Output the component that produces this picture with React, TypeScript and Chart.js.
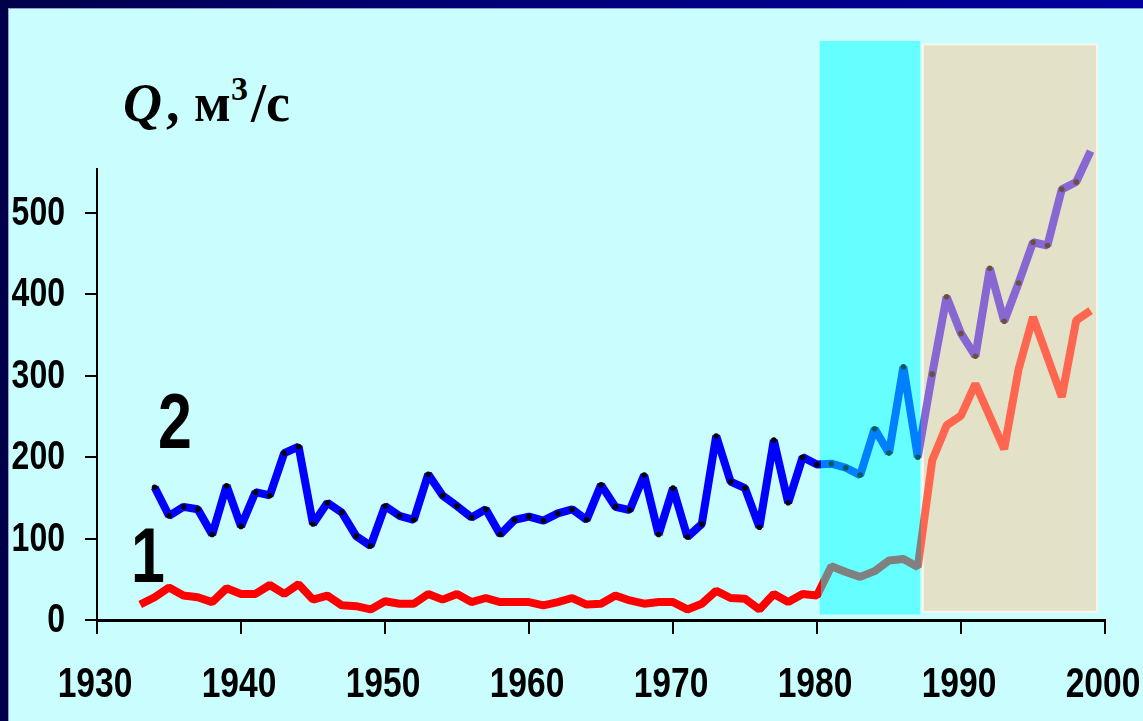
import React, { useEffect, useRef } from 'react';
import { Chart, registerables } from 'chart.js';

Chart.register(...registerables);

// ---- data ----
const years = [
  1933, 1934, 1935, 1936, 1937, 1938, 1939, 1940, 1941, 1942,
  1943, 1944, 1945, 1946, 1947, 1948, 1949, 1950, 1951, 1952,
  1953, 1954, 1955, 1956, 1957, 1958, 1959, 1960, 1961, 1962,
  1963, 1964, 1965, 1966, 1967, 1968, 1969, 1970, 1971, 1972,
  1973, 1974, 1975, 1976, 1977, 1978, 1979, 1980, 1981, 1982,
  1983, 1984, 1985, 1986, 1987, 1988, 1989, 1990, 1991, 1992,
  1993, 1994, 1995, 1996, 1997, 1998, 1999,
];

// curve 1 (lower)
const flow1 = [
  19, 28, 40, 30, 28, 22, 39, 32, 32, 43,
  32, 44, 25, 30, 18, 17, 13, 23, 20, 20,
  32, 25, 32, 22, 27, 22, 22, 22, 18, 22,
  27, 19, 20, 30, 24, 20, 22, 22, 13, 20,
  36, 27, 26, 13, 32, 22, 32, 30, 66, 59,
  53, 60, 73, 75, 65, 196, 239, 251, 290, 250,
  210, 308, 372, 323, 274, 368, 380,
];

// curve 2 (upper)
const flow2 = [
  null, 163, 128, 139, 136, 105, 165, 115, 157, 153,
  205, 213, 118, 144, 132, 103, 91, 140, 128, 123,
  179, 153, 140, 126, 136, 105, 123, 127, 122, 131,
  136, 123, 166, 139, 135, 178, 105, 162, 102, 118,
  226, 170, 162, 114, 221, 144, 200, 191, 192, 187,
  178, 235, 205, 311, 200, 302, 397, 352, 324, 432,
  367, 414, 464, 460, 529, 538, 576,
];

const xTickValues = [1930, 1940, 1950, 1960, 1970, 1980, 1990, 2000];
const yTickValues = [0, 100, 200, 300, 400, 500];

// shaded periods (years) and the breaks where the curves change colour
const periodStarts = [1980.26, 1987.35];
const periodEnds = [1987.1, 1999.45];
const periodTops = [710, 707];
const periodBottoms = [8, 10];
const periodFills = ['#66FFFF', '#E3E2C9'];
const periodBorders = ['#66FFFF', '#F6F6EC'];
const colourBreaks = [1980.26, 1987.2];

const curve1Colours = ['#FF0000', '#808080', '#FF6650'];
const curve2Colours = ['#0000FF', '#0080FF', '#8767D2'];
const curve2Dots = ['#000000', '#0A5A5A', '#6B5040'];

const LABEL_FONT = '"Liberation Sans", Arial, sans-serif';

function regionIndex(x: number) {
  if (x < colourBreaks[0]) return 0;
  if (x < colourBreaks[1]) return 1;
  return 2;
}

function regionGradient(chart: any, colours: string[]) {
  const { chartArea, scales } = chart;
  if (!chartArea || !scales.x) return colours[0];
  const l = chartArea.left;
  const r = chartArea.right;
  const g = chart.ctx.createLinearGradient(l, 0, r, 0);
  const f1 = Math.min(1, Math.max(0, (scales.x.getPixelForValue(colourBreaks[0]) - l) / (r - l)));
  const f2 = Math.min(1, Math.max(0, (scales.x.getPixelForValue(colourBreaks[1]) - l) / (r - l)));
  g.addColorStop(0, colours[0]);
  g.addColorStop(f1, colours[0]);
  g.addColorStop(f1, colours[1]);
  g.addColorStop(f2, colours[1]);
  g.addColorStop(f2, colours[2]);
  g.addColorStop(1, colours[2]);
  return g;
}

const periodsPlugin = {
  id: 'periods',
  beforeDatasetsDraw(chart: any) {
    const { ctx, scales } = chart;
    const xs = scales.x;
    const ys = scales.y;
    ctx.save();
    for (let i = 0; i < periodStarts.length; i++) {
      const x0 = xs.getPixelForValue(periodStarts[i]);
      const x1 = xs.getPixelForValue(periodEnds[i]);
      const y0 = ys.getPixelForValue(periodTops[i]);
      const y1 = ys.getPixelForValue(periodBottoms[i]);
      ctx.fillStyle = periodFills[i];
      ctx.fillRect(x0, y0, x1 - x0, y1 - y0);
      ctx.strokeStyle = periodBorders[i];
      ctx.lineWidth = 2;
      ctx.strokeRect(x0, y0, x1 - x0, y1 - y0);
    }
    ctx.restore();
  },
};

// condensed bold tick labels (drawn as text, horizontally narrowed)
const axisLabelsPlugin = {
  id: 'axisLabels',
  afterDraw(chart: any) {
    const { ctx, scales } = chart;
    ctx.save();
    ctx.fillStyle = '#000';
    ctx.textBaseline = 'alphabetic';
    ctx.font = `bold 42px ${LABEL_FONT}`;
    ctx.textAlign = 'center';
    for (const v of xTickValues) {
      const x = scales.x.getPixelForValue(v);
      ctx.save();
      ctx.translate(x - 2, scales.x.top + 77);
      ctx.scale(0.8, 1);
      ctx.fillText(String(v), 0, 0);
      ctx.restore();
    }
    ctx.font = `bold 40px ${LABEL_FONT}`;
    ctx.textAlign = 'right';
    for (const v of yTickValues) {
      const y = scales.y.getPixelForValue(v);
      ctx.save();
      ctx.translate(scales.y.right - 32, y + 12);
      ctx.scale(0.8, 1);
      ctx.fillText(String(v), 0, 0);
      ctx.restore();
    }
    ctx.restore();
  },
};

export default function App() {
  const canvasRef = useRef<HTMLCanvasElement | null>(null);

  useEffect(() => {
    if (!canvasRef.current) return;
    const data1 = years.map((y, i) => ({ x: y, y: flow1[i] }));
    const data2 = years.map((y, i) => ({ x: y, y: flow2[i] }));

    const chart = new Chart(canvasRef.current, {
      type: 'line',
      data: {
        datasets: [
          {
            label: '1',
            data: data1 as any,
            borderWidth: 8,
            borderColor: (c: any) => regionGradient(c.chart, curve1Colours),
            pointRadius: 0,
            tension: 0,
            borderJoinStyle: 'bevel',
            clip: false as any,
          },
          {
            label: '2',
            data: data2 as any,
            borderWidth: 8,
            borderColor: (c: any) => regionGradient(c.chart, curve2Colours),
            pointRadius: 2.8,
            pointBorderWidth: 0,
            pointBackgroundColor: (c: any) =>
              curve2Dots[regionIndex(c.raw ? c.raw.x : 1930)],
            tension: 0,
            borderJoinStyle: 'bevel',
            spanGaps: false,
            clip: false as any,
          },
        ],
      },
      options: {
        animation: false,
        responsive: false,
        maintainAspectRatio: false,
        layout: { padding: { left: 0, top: 169, right: 38, bottom: 0 } },
        plugins: {
          legend: { display: false },
          tooltip: { enabled: false },
          title: { display: false },
        },
        scales: {
          x: {
            type: 'linear',
            min: 1930,
            max: 2000,
            afterFit: (s: any) => {
              s.height = 101;
            },
            afterBuildTicks: (s: any) => {
              s.ticks = xTickValues.map((v) => ({ value: v }));
            },
            grid: {
              drawOnChartArea: false,
              drawTicks: true,
              tickLength: 14,
              color: '#000',
              lineWidth: 2,
            },
            border: { display: true, color: '#000', width: 3 },
            ticks: { display: false },
          },
          y: {
            type: 'linear',
            min: 0,
            max: 554,
            afterFit: (s: any) => {
              s.width = 97;
            },
            afterBuildTicks: (s: any) => {
              s.ticks = yTickValues.map((v) => ({ value: v }));
            },
            grid: {
              drawOnChartArea: false,
              drawTicks: true,
              tickLength: 12,
              color: '#000',
              lineWidth: 2,
            },
            border: { display: true, color: '#000', width: 2 },
            ticks: { display: false },
          },
        },
      },
      plugins: [periodsPlugin, axisLabelsPlugin],
    });
    return () => chart.destroy();
  }, []);

  const serif = '"Liberation Serif", "Times New Roman", serif';
  const titlePart = (left: number, top: number, size: number, extra: any = {}) => ({
    position: 'absolute' as const,
    left,
    top,
    fontFamily: serif,
    fontWeight: 'bold' as const,
    fontSize: size,
    lineHeight: `${size}px`,
    color: '#000',
    whiteSpace: 'nowrap' as const,
    ...extra,
  });
  const bigDigit = (left: number, top: number) => ({
    position: 'absolute' as const,
    left,
    top,
    fontFamily: LABEL_FONT,
    fontWeight: 'bold' as const,
    fontSize: 78,
    lineHeight: '78px',
    color: '#000',
    transform: 'scaleX(0.78)',
    transformOrigin: 'left top',
  });

  return (
    <div
      style={{
        position: 'fixed',
        left: 0,
        top: 0,
        width: 1143,
        height: 721,
        overflow: 'hidden',
        background: 'linear-gradient(90deg, #00004a 0%, #000070 35%, #00008a 70%, #0000a0 100%)',
      }}
    >
      <div
        style={{
          position: 'absolute',
          left: 8,
          top: 8,
          right: 0,
          bottom: 0,
          background: '#CAFEFE',
          borderTop: '1px solid #8f9fd0',
          borderLeft: '1px solid #8f9fd0',
        }}
      />
      <span style={titlePart(123, 76, 54, { fontStyle: 'italic' })}>Q</span>
      <span style={titlePart(166, 76, 54)}>,</span>
      <span style={titlePart(194, 76, 54)}>м</span>
      <span style={titlePart(231, 72, 34)}>3</span>
      <span style={titlePart(251, 76, 54)}>/</span>
      <span style={titlePart(266, 76, 54)}>с</span>
      <div style={bigDigit(158, 382)}>2</div>
      <div style={bigDigit(131, 516)}>1</div>
      <canvas
        ref={canvasRef}
        width={1143}
        height={721}
        style={{ position: 'absolute', left: 0, top: 0, width: 1143, height: 721 }}
      />
    </div>
  );
}
